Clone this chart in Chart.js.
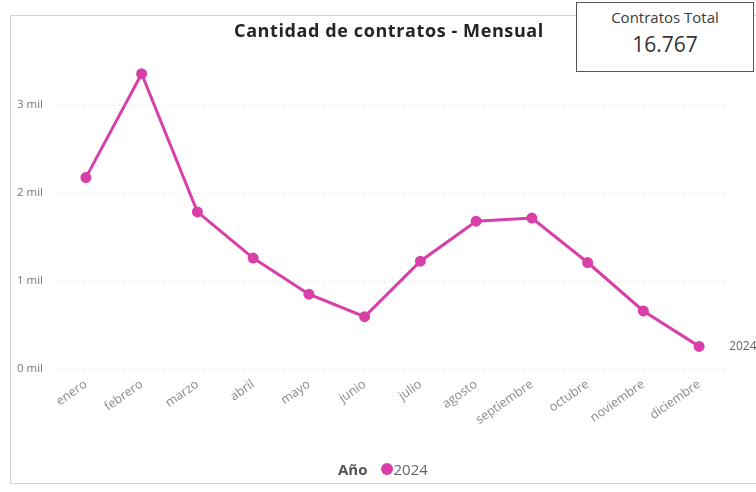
<!DOCTYPE html>
<html>
<head>
<meta charset="utf-8">
<script src="https://cdn.jsdelivr.net/npm/chart.js@4/dist/chart.umd.min.js"></script>
<style>
  body { margin: 0; background: #fff; font-family: "Open Sans", sans-serif; }
  #wrap { position: relative; width: 756px; height: 492px; overflow: hidden; }
  #panel { position: absolute; left: 10px; top: 15px; width: 800px; height: 467px; border: 1.5px solid #d2d2d2; }
  #title { position: absolute; left: 139px; width: 500px; top: 18px; text-align: center; font-weight: bold; font-size: 18px; letter-spacing: 0.6px; color: #252423; }
  #card { position: absolute; left: 576px; top: 2px; width: 176px; height: 68px; border: 1.5px solid #555; background: #fff; text-align: center; color: #333; }
  #card .lbl { font-size: 15px; margin-top: 4px; color: #3a3a3a; }
  #card .val { font-size: 21px; margin-top: 3px; }
  #legend { position: absolute; left: 338px; top: 459px; font-size: 15px; color: #666; display: flex; align-items: center; }
  #legend b { color: #555; margin-right: 13px; }
  #legend .dot { width: 12px; height: 12px; border-radius: 50%; background: #D93FA8; margin-right: 1px; }
  canvas { position: absolute; left: 0; top: 0; }
</style>
</head>
<body>
<div id="wrap">
  <div id="panel"></div>
  <canvas id="c" width="756" height="492"></canvas>
  <div id="title">Cantidad de contratos - Mensual</div>
  <div id="card"><div class="lbl">Contratos Total</div><div class="val" id="total"></div></div>
  <div id="legend"><b>Año</b><span class="dot"></span><span>2024</span></div>
</div>
<script>
const months = ['enero', 'febrero', 'marzo', 'abril', 'mayo', 'junio', 'julio', 'agosto', 'septiembre', 'octubre', 'noviembre', 'diciembre'];
const contratos2024 = [2175, 3355, 1785, 1260, 850, 595, 1225, 1680, 1715, 1210, 660, 257];
const seriesName = '2024';
const yTicks = [0, 1000, 2000, 3000];

const pink = '#D93FA8';

const total = contratos2024.reduce((a, b) => a + b, 0);
document.getElementById('total').textContent = total.toLocaleString('de-DE');

// etiqueta "2024" al final de la linea
const endLabel = {
  id: 'endLabel',
  afterDatasetsDraw(chart) {
    const meta = chart.getDatasetMeta(0);
    const last = meta.data[meta.data.length - 1];
    const ctx = chart.ctx;
    ctx.save();
    ctx.font = '12px "Open Sans"';
    ctx.fillStyle = '#666';
    ctx.textBaseline = 'middle';
    ctx.fillText(chart.data.datasets[0].label, last.x + 30, last.y);
    ctx.restore();
  }
};

new Chart(document.getElementById('c'), {
  type: 'line',
  data: {
    labels: months,
    datasets: [{
      label: seriesName,
      data: contratos2024,
      borderColor: pink,
      backgroundColor: pink,
      borderWidth: 3,
      pointRadius: 4,
      pointHoverRadius: 4,
      tension: 0
    }]
  },
  options: {
    responsive: false,
    animation: false,
    layout: { padding: { left: 17, right: 29, top: 61, bottom: 40 } },
    plugins: {
      legend: { display: false },
      title: { display: false },
      tooltip: { enabled: false }
    },
    scales: {
      x: {
        offset: true,
        grid: { display: false },
        border: { display: false },
        ticks: {
          minRotation: 35,
          maxRotation: 35,
          color: '#8a8a8a',
          font: { size: 12.5, family: 'Open Sans' },
          padding: 0
        },
        afterFit(s) { s.height = 83; }
      },
      y: {
        min: 0,
        max: 3500,
        grid: { color: '#e6e6e6', lineWidth: 1, drawTicks: false },
        border: { display: false, dash: [2, 3] },
        afterBuildTicks(s) { s.ticks = yTicks.map(v => ({ value: v })); },
        ticks: {
          crossAlign: 'far',
          color: '#777',
          font: { size: 11.5, family: 'Open Sans' },
          callback: v => (v / 1000) + ' mil'
        },
        afterFit(s) { s.width = 41; }
      }
    }
  },
  plugins: [endLabel]
});
</script>
</body>
</html>
